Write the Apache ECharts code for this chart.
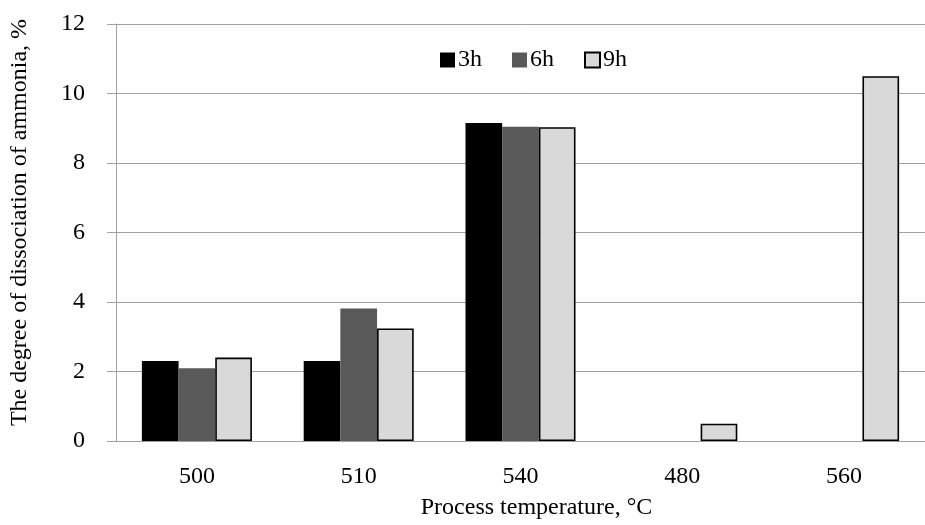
<!DOCTYPE html>
<html>
<head>
<meta charset="utf-8">
<script src="https://cdn.jsdelivr.net/npm/echarts@6/dist/echarts.min.js"></script>
<style>html,body{margin:0;padding:0;background:#fff}#c{width:925px;height:525px}</style>
</head>
<body>
<div id="c"></div>
<script>
const categories = ['500', '510', '540', '480', '560'];
const seriesNames = ['3h', '6h', '9h'];
const values3h = [2.3, 2.3, 9.15, '-', '-'];
const values6h = [2.09, 3.81, 9.04, '-', '-'];
const values9h = [2.4, 3.24, 9.03, 0.5, 10.5];
const yTicks = [0, 2, 4, 6, 8, 10, 12];

const font = 'Liberation Serif';
const chart = echarts.init(document.getElementById('c'));
const colors = ['#000000', '#595959', '#d9d9d9'];
const dataSets = [values3h, values6h, values9h];

chart.setOption({
  animation: false,
  backgroundColor: '#fff',
  textStyle: { fontFamily: font, color: '#000' },
  legend: {
    left: 435, top: 43,
    itemWidth: 15, itemHeight: 15, itemGap: 30,
    icon: 'rect',
    textStyle: { fontFamily: font, fontSize: 24, color: '#000', padding: [0, 0, 0, -2] },
    data: seriesNames
  },
  grid: { left: 114, top: 24, width: 818, height: 419, containLabel: false },
  xAxis: {
    type: 'category',
    data: categories,
    name: 'Process temperature, °C',
    nameLocation: 'middle',
    nameGap: 55,
    nameTextStyle: { fontFamily: font, fontSize: 24, color: '#000', padding: [0, 0, 0, 32] },
    axisLine: { lineStyle: { color: '#a0a0a0', width: 1 } },
    axisTick: { show: false },
    axisLabel: { fontFamily: font, fontSize: 24, color: '#000', margin: 24 }
  },
  yAxis: {
    type: 'value',
    min: 0, max: 12, interval: 2,
    name: 'The degree of dissociation of ammonia, %',
    nameLocation: 'middle',
    nameGap: 84,
    nameTextStyle: { fontFamily: font, fontSize: 24, color: '#000', padding: [0, 0, 0, 20] },
    axisLine: { show: true, lineStyle: { color: '#a0a0a0', width: 1 } },
    axisTick: { show: true, length: 9, lineStyle: { color: '#a0a0a0' } },
    splitLine: { lineStyle: { color: '#a0a0a0', width: 1 } },
    axisLabel: {
      fontFamily: font, fontSize: 24, color: '#000', margin: 31,
      formatter: v => yTicks.includes(v) ? String(v) : ''
    }
  },
  series: seriesNames.map((n, i) => ({
    name: n,
    type: 'bar',
    data: dataSets[i],
    barGap: '0%',
    barCategoryGap: '32%',
    itemStyle: i === 2
      ? { color: colors[i], borderColor: '#000', borderWidth: 1.6 }
      : { color: colors[i] }
  }))
});
</script>
</body>
</html>
